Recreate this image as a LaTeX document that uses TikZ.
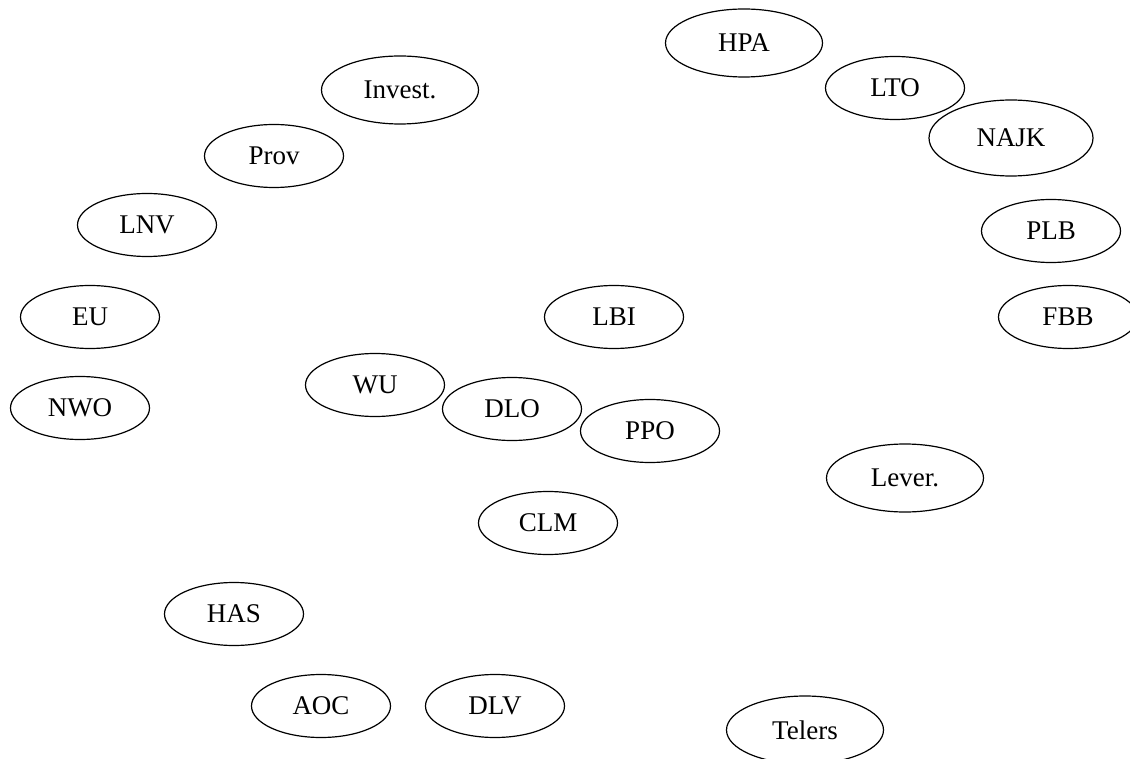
\documentclass[tikz,border=0pt]{standalone}
\usepackage{fontspec}
\setmainfont{Liberation Serif}
\usetikzlibrary{shapes.geometric}

\begin{document}
\begin{tikzpicture}[
      x=0.5pt, y=-0.5pt,
      org/.style={ellipse, draw, line width=0.6pt, inner sep=0pt,
      minimum width=69.5pt, minimum height=31.5pt,
      font=\fontsize{13.5}{16}\selectfont},
      orgwide/.style={org, minimum width=78.5pt, minimum height=34pt},
      orgbig/.style={org, minimum width=82pt, minimum height=38pt}]
    \useasboundingbox (0,0) rectangle (1130,759);
    % top right
    \node[orgwide] (hpa) at (744,43) {HPA};
    \node[org] (lto) at (895,88) {LTO};
    \node[orgbig] (najk) at (1011,138) {NAJK};
    \node[org] (plb) at (1051,231) {PLB};
    \node[org] (fbb) at (1068,317) {FBB};
    % left arc
    \node[orgwide] (invest) at (400,90) {Invest.};
    \node[org] (prov) at (274,156) {Prov};
    \node[org] (lnv) at (147,225) {LNV};
    \node[org] (eu) at (90,317) {EU};
    \node[org] (nwo) at (80,408) {NWO};
    % middle
    \node[org] (lbi) at (614,317) {LBI};
    \node[org] (wu) at (375,385) {WU};
    \node[org] (dlo) at (512,409) {DLO};
    \node[org] (ppo) at (650,431) {PPO};
    \node[orgwide] (lever) at (905,478) {Lever.};
    \node[org] (clm) at (548,523) {CLM};
    % bottom
    \node[org] (has) at (234,614) {HAS};
    \node[org] (aoc) at (321,706) {AOC};
    \node[org] (dlv) at (495,706) {DLV};
    \node[orgwide] (telers) at (805,730) {Telers};
  \end{tikzpicture}
\end{document}
